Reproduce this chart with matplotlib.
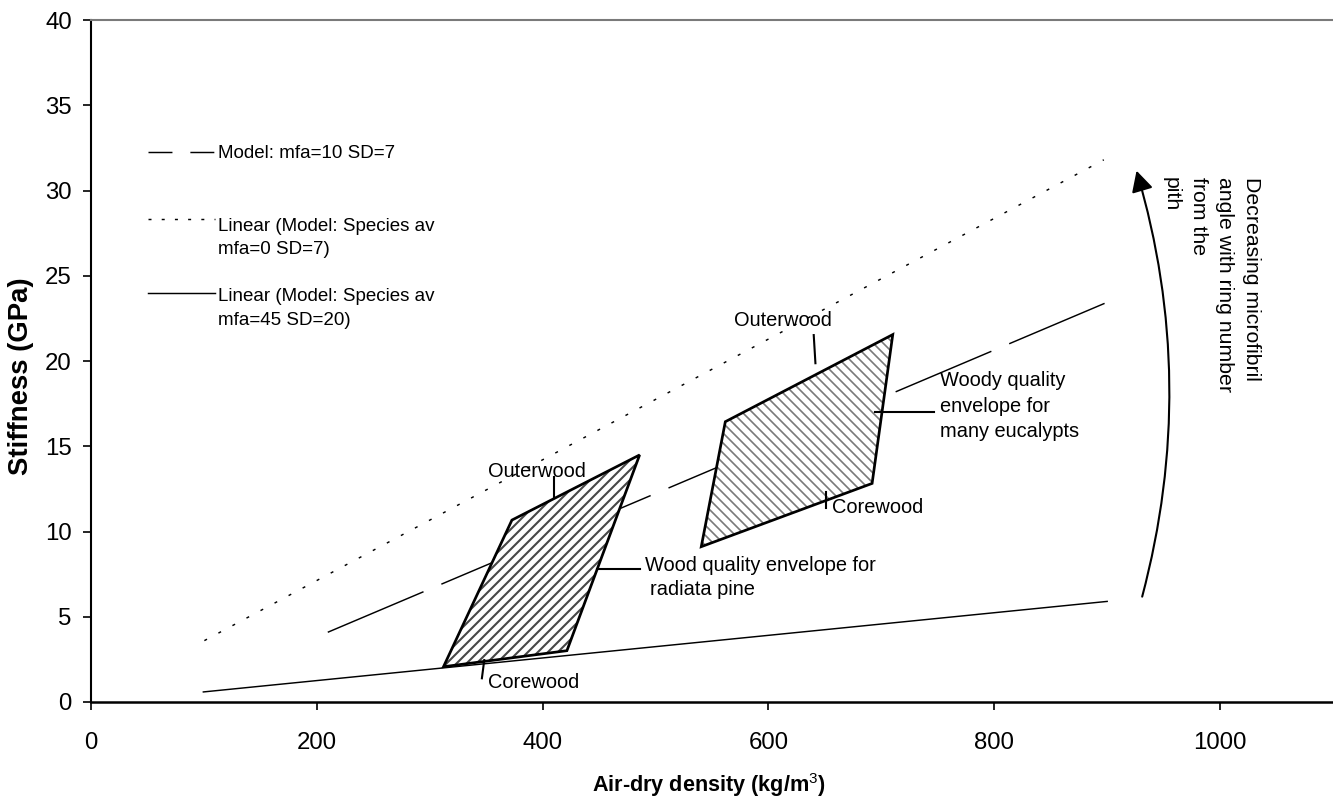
import matplotlib
matplotlib.use("Agg")
import matplotlib.pyplot as plt
from matplotlib.patches import Polygon, FancyArrowPatch

plt.rcParams['font.family'] = ['Liberation Sans', 'DejaVu Sans']
plt.rcParams['lines.scale_dashes'] = False
plt.rcParams['mathtext.fontset'] = 'custom'
plt.rcParams['mathtext.rm'] = 'Liberation Sans'
plt.rcParams['mathtext.bf'] = 'Liberation Sans:bold'
plt.rcParams['hatch.linewidth'] = 1.0

# -----------------------------
# Data (air-dry density kg/m3, stiffness GPa)
# -----------------------------
mfa0_x = [100.4, 897.0]
mfa0_y = [3.6, 31.8]

mfa45_x = [99.5, 900.0]
mfa45_y = [0.59, 5.9]

mfa10_x = [209.7, 897.7]
mfa10_y = [4.09, 23.38]

radiata_x = [312.2, 421.5, 485.9, 372.8]
radiata_y = [2.07, 3.01, 14.49, 10.67]

euc_x = [540.5, 691.8, 710.1, 561.8]
euc_y = [9.11, 12.82, 21.55, 16.44]

x_ticks = [0, 200, 400, 600, 800, 1000]
y_ticks = [0, 5, 10, 15, 20, 25, 30, 35, 40]

legend_labels = [
    ["Model: mfa=10 SD=7"],
    ["Linear (Model: Species av", "mfa=0 SD=7)"],
    ["Linear (Model: Species av", "mfa=45 SD=20)"],
]

arrow_text = ["Decreasing microfibril", "angle with ring number", "from the", "pith"]

# -----------------------------
# Figure
# -----------------------------
fig = plt.figure(figsize=(1333 / 150, 803 / 150), dpi=150)
ax = fig.add_axes([91 / 1333, 101 / 803, 1242 / 1333, 682 / 803])
ax.set_xlim(0, 1100)
ax.set_ylim(0, 40)
ax.set_xticks(x_ticks)
ax.set_yticks(y_ticks)

ax.spines['right'].set_visible(False)
ax.spines['top'].set_color('#7a7a7a')
ax.spines['top'].set_linewidth(1.0)
ax.spines['bottom'].set_linewidth(1.2)
ax.spines['left'].set_linewidth(1.0)

ax.tick_params(axis='y', direction='out', length=3.8, width=0.8, pad=5.4, labelsize=11.5)
ax.tick_params(axis='x', direction='out', length=3.7, width=0.8, pad=10.5, labelsize=11.5)

# -----------------------------
# Series lines
# -----------------------------
ax.plot(mfa0_x, mfa0_y, color='black', lw=0.7, linestyle=(0, (1.44, 6.2)), zorder=2)
ax.plot(mfa45_x, mfa45_y, color='black', lw=0.7, zorder=2)
ax.plot(mfa10_x, mfa10_y, color='black', lw=0.7, linestyle=(0, (49.9, 9.3)), zorder=2)

# -----------------------------
# Envelopes
# -----------------------------
with plt.rc_context({'hatch.linewidth': 1.0}):
    ax.add_patch(Polygon(list(zip(radiata_x, radiata_y)), closed=True,
                         facecolor='white', edgecolor='#474747', hatch='/////', lw=0, zorder=3))
with plt.rc_context({'hatch.linewidth': 0.8}):
    ax.add_patch(Polygon(list(zip(euc_x, euc_y)), closed=True,
                         facecolor='white', edgecolor='#7a7a7a', hatch='\\\\\\\\\\', lw=0, zorder=3))

for px, py in [(radiata_x, radiata_y), (euc_x, euc_y)]:
    ax.add_patch(Polygon(list(zip(px, py)), closed=True, fill=False,
                         edgecolor='black', lw=1.3, joinstyle='miter', zorder=4))

# -----------------------------
# Annotations
# -----------------------------
def note(x, y, s):
    ax.text(x, y, s, fontsize=9.6, ha='left', va='baseline', zorder=5)

def leader(xs, ys):
    ax.plot(xs, ys, color='black', lw=1.0, zorder=5)

note(351.8, 13.18, "Outerwood")
leader([409.7, 409.7], [13.22, 11.95])
note(351.8, 0.80, "Corewood")
leader([348.3, 346.2], [2.46, 1.39])
note(490.9, 7.70, "Wood quality envelope for")
note(495.3, 6.28, "radiata pine")
leader([448.1, 486.5], [7.78, 7.78])

note(569.2, 22.05, "Outerwood")
leader([640.1, 641.6], [21.52, 19.87])
note(656.4, 11.07, "Corewood")
leader([651.3, 651.3], [12.34, 11.36])
note(751.7, 18.53, "Woody quality")
note(751.7, 17.03, "envelope for")
note(751.7, 15.52, "many eucalypts")
leader([694.7, 746.4], [16.99, 16.99])

arrow = FancyArrowPatch((931.0, 6.18), (926.0, 31.16),
                        connectionstyle='arc3,rad=0.14',
                        arrowstyle='-|>,head_length=0.42,head_width=0.22',
                        mutation_scale=20, lw=1.0, color='black',
                        shrinkA=0, shrinkB=0, zorder=5)
ax.add_patch(arrow)

for xpos, s in zip([1022.6, 999.1, 975.6, 952.1], arrow_text):
    ax.text(xpos, 30.81, s, fontsize=10.2, rotation=270, rotation_mode='anchor',
            ha='left', va='baseline', zorder=5)

# -----------------------------
# Legend (drawn by hand, no frame)
# -----------------------------
leg_x = [0.0461, 0.0998]
leg_styles = [(0, (11.5, 8.6)), (0, (1.44, 4.9)), '-']
leg_line_y = [0.8069, 0.7078, 0.5993]
leg_text_y = [[0.7972], [0.6899, 0.6576], [0.5880, 0.5535]]

for style, ly, labels, ty in zip(leg_styles, leg_line_y, legend_labels, leg_text_y):
    ax.plot(leg_x, [ly, ly], color='black', lw=0.7, linestyle=style,
            transform=ax.transAxes, clip_on=False)
    for s, y in zip(labels, ty):
        ax.text(0.1025, y, s, fontsize=9, ha='left', va='baseline',
                transform=ax.transAxes)

# -----------------------------
# Axis labels
# -----------------------------
ax.set_xlabel(r"Air-dry density (kg/m$^{3}$)", fontsize=10.4, fontweight='bold')
ax.xaxis.set_label_coords(0.4976, -0.1217)
ax.xaxis.label.set_va('center')

ax.set_ylabel("Stiffness (GPa)", fontsize=13.2, fontweight='bold')
ax.yaxis.set_label_coords(-0.0564, 0.478)
ax.yaxis.label.set_va('center')

fig.savefig("out.png", dpi=150)
